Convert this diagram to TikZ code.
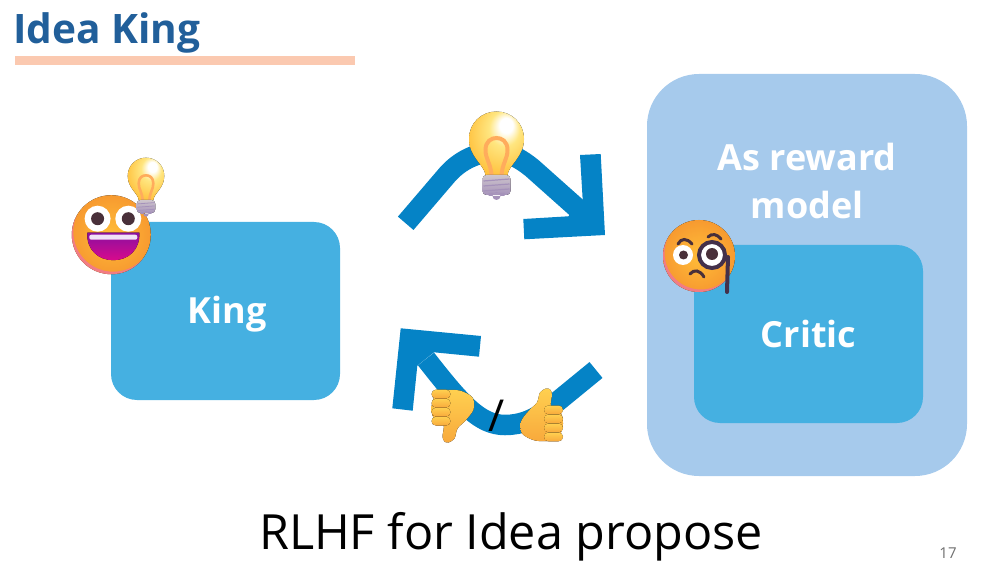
\documentclass[tikz,border=0pt]{standalone}
\usepackage{fontspec}
\setmainfont{Open Sans}
\usepackage{xcolor}
\definecolor{titleblue}{HTML}{215F9A}
\definecolor{rulepeach}{HTML}{FBC9B0}
\definecolor{boxblue}{HTML}{45B0E1}
\definecolor{paleblue}{HTML}{A6CAEC}
\definecolor{arrowblue}{HTML}{0583C6}
\definecolor{pagegrey}{HTML}{6E6E6E}
\definecolor{faceyellow}{HTML}{FFBD38}
\definecolor{faceorange}{HTML}{F79A30}
\definecolor{facepink}{HTML}{F06FA8}
\definecolor{darkeye}{HTML}{49303A}
\definecolor{glassin}{HTML}{FFE680}
\definecolor{glassout}{HTML}{FFBC34}
\definecolor{wire}{HTML}{FFAC5C}
\definecolor{screwtop}{HTML}{CFC6CC}
\definecolor{screwend}{HTML}{A592BA}
\definecolor{fingerin}{HTML}{FFD050}
\definecolor{fingerout}{HTML}{F8A93C}
\definecolor{monocle}{HTML}{43304A}
\definecolor{mouthtop}{HTML}{8A0FA0}
\definecolor{mouthend}{HTML}{D80A8C}
\definecolor{teeth}{HTML}{F0E2F8}
\pgfdeclareradialshading{glassshade}{\pgfpoint{10bp}{16bp}}{color(0bp)=(white); color(6bp)=(white); color(14bp)=(glassin); color(34bp)=(glassout); color(50bp)=(glassout)}
\tikzset{
  roundbox/.style={fill=boxblue, minimum width=229, minimum height=178, rounded corners=26},
  boxtext/.style={text=white, font=\bfseries\fontsize{36}{48}\selectfont, align=center},
  bigarrow/.style={draw=arrowblue, line width=20.5},
  facebody/.style={shading=radial, inner color=faceyellow, outer color=faceorange},
  pics/bulbicon/.style={code={
    \fill[shading=glassshade] (-11,36) .. controls (-12,26) and (-27.5,18) .. (-27.5,0) .. controls (-27.5,-16) and (-15,-27.5) .. (0,-27.5) .. controls (15,-27.5) and (27.5,-16) .. (27.5,0) .. controls (27.5,18) and (12,26) .. (11,36) -- cycle;
    \draw[wire, line width=#1] (-5,36) .. controls (-6,24) and (-11,20) .. (-11,11) .. controls (-11,2) and (-5,-1) .. (0,-1) .. controls (5,-1) and (11,2) .. (11,11) .. controls (11,20) and (6,24) .. (5,36);
    \fill[top color=screwtop, bottom color=screwend, rounded corners=4] (-14,36) rectangle (14,56);
    \fill[screwend] (-8,54) rectangle (8,57) (0,57) circle (4);
    \foreach \i in {41,46,51}{
      \draw[screwend, line width=#1*0.3] (-13,\i+1) -- (13,\i-1);
    }
  }},
  pics/thumbicon/.style={code={
    \fill[top color=fingerin, bottom color=fingerout] plot[smooth cycle] coordinates {(4,-27) (-2,-23) (-5,-13) (-13,-5) (-21,6) (-20,18) (-7,25) (10,25) (18,19) (21,8) (19,-2) (9,-9) (10,-21) (8,-26)};
    \foreach \i in {-10,-1,8,17}{
      \fill[top color=fingerin, bottom color=fingerout, rounded corners=4.4] (2,\i) rectangle (21,\i+8.8);
    }
  }}
}
\begin{document}
\begin{tikzpicture}[x=1pt,y=-1pt]
  \useasboundingbox (0,0) rectangle (983,564);
  % heading
  \node[anchor=base west, inner sep=0, text=titleblue, font=\bfseries\fontsize{40.6}{48}\selectfont] (title) at (13,44) {Idea King};
  \fill[rulepeach] (15,56) rectangle (355,65);
  % boxes
  \node[roundbox] (king) at (225.5,311) {};
  \node[boxtext] (kinglabel) at (227,314) {King};
  \node[fill=paleblue, minimum width=320, minimum height=402, rounded corners=52] (reward) at (807,275) {};
  \node[boxtext] (rewardlabel) at (807,181) {As reward\\model};
  \node[roundbox] (critic) at (808.5,334) {};
  \node[boxtext] (criticlabel) at (critic.center) {Critic};
  % upper arrow
  \coordinate (upstart) at (405.7,223.3);
  \coordinate (upend) at (587,217);
  \draw[bigarrow] (upstart) -- (447,175) .. controls (460,160) and (478,152) .. (495,152) .. controls (510,152) and (522,160) .. (532,168) -- (upend);
  \fill[arrowblue] (580,155) -- (600.7,154) -- (605,235) -- (524.3,239.3) -- (523.3,219) -- (568.3,216.3) -- (582.7,200) -- cycle;
  % lower arrow
  \coordinate (lowstart) at (596,370);
  \coordinate (lowend) at (426,359);
  \draw[bigarrow] (lowstart) -- (552,406) .. controls (535,420) and (520,425) .. (505,425) .. controls (480,425) and (462,405) .. (lowend);
  \fill[arrowblue] (400.7,328.3) -- (481,336) -- (479,356.7) -- (434,352.3) -- (417.3,365.7) -- (412.7,410.7) -- (392.3,408.3) -- cycle;
  % emoji
  \begin{scope}[shift={(111.3,234.7)}]
    \fill[facebody] (0,0) circle (39.5);
    \begin{scope}
      \clip (0,0) circle (39.5);
      \fill[facepink, opacity=.7, even odd rule] (-50,-50) rectangle (50,50) (2,-3) circle (40);
    \end{scope}
    \fill[white] (-13.7,-16) circle (13) (17,-16) circle (13);
    \fill[darkeye] (-13.7,-16) circle (6.5) (17,-16) circle (6.5);
    \fill[top color=mouthtop, bottom color=mouthend] (-24,-2) -- (28,-2) .. controls (29,15) and (17,25.5) .. (2,25.5) .. controls (-13,25.5) and (-25,15) .. (-24,-2) -- cycle;
    \fill[teeth, rounded corners=2] (-22,0) rectangle (26,5);
  \end{scope}
  \pic (smallbulb) [scale=.665] at (146,176) {bulbicon=2.6};
  \pic (bigbulb) at (496.5,139) {bulbicon=4};
  \begin{scope}[shift={(699,256)}]
    \fill[facebody] (0,0) circle (36);
    \begin{scope}
      \clip (0,0) circle (36);
      \fill[facepink, opacity=.7, even odd rule] (-50,-50) rectangle (50,50) (2,-3) circle (36.5);
    \end{scope}
    \fill[white] (-16,-1) circle (10) (13,-1) circle (12);
    \fill[darkeye] (-15.5,-1) circle (4.5) (13,-2) circle (6);
    \draw[monocle, line width=4] (13,-1) circle (13);
    \draw[monocle, line width=4, line cap=round] (29,1) -- (28,36);
    \draw[darkeye, line width=3, line cap=round] (-21,-12) .. controls (-18,-18) and (-12,-18) .. (-7,-12);
    \draw[darkeye, line width=3, line cap=round] (9,-19) .. controls (13,-23) and (18,-22) .. (22,-17);
    \draw[darkeye, line width=3, line cap=round] (-9,18) .. controls (-5,13) and (1,14) .. (5,21);
  \end{scope}
  \pic (thumbdown) [rotate=180] at (452.5,415.5) {thumbicon};
  \pic (thumbup) at (542,415.5) {thumbicon};
  \node[inner sep=0, font=\fontsize{44}{48}\selectfont] (slash) at (497,416) {/};
  % caption
  \node[inner sep=0, font=\fontsize{48.5}{56}\selectfont] (caption) at (511,537) {RLHF for Idea propose};
  \node[inner sep=0, text=pagegrey, font=\fontsize{15}{18}\selectfont] (pagenum) at (948,553) {17};
\end{tikzpicture}
\end{document}
